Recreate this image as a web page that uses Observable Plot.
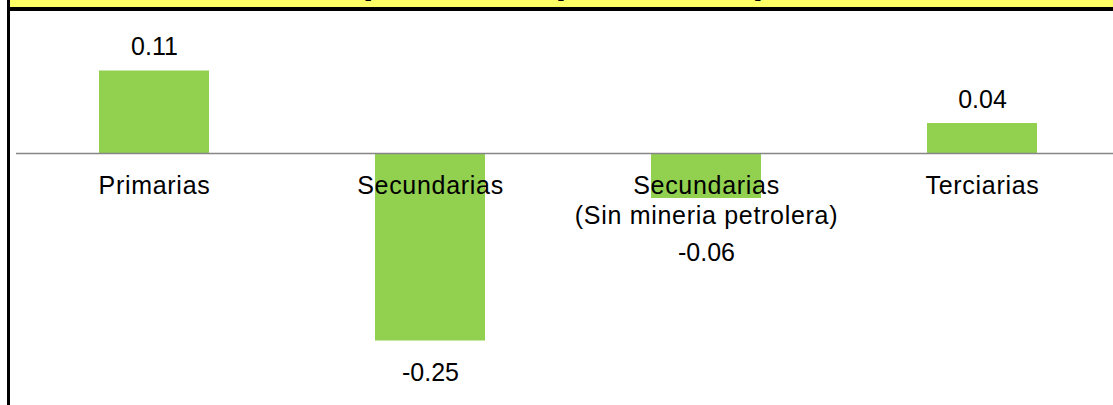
<!DOCTYPE html>
<html>
<head>
<meta charset="utf-8">
<script src="https://cdn.jsdelivr.net/npm/d3@7"></script>
<script src="https://cdn.jsdelivr.net/npm/@observablehq/plot@0.6"></script>
<style>
  html, body { margin: 0; padding: 0; background: #fff; }
  #wrap { position: relative; width: 1113px; height: 405px; overflow: hidden; background: #fff; }
  #chart { position: absolute; left: 0; top: 0; }
  #frame { position: absolute; left: 7px; top: 0; width: 1106px; height: 405px; border-left: 3px solid #000; box-sizing: border-box; pointer-events: none; }
  #header { position: absolute; left: 10px; top: 0; width: 1103px; height: 7px; background: #FFFF66; border-bottom: 4px solid #000; overflow: hidden; }
  #title { position: absolute; left: 553px; top: -40px; transform: translateX(-50%); font: bold 39px "Liberation Sans", Arial, sans-serif; line-height: 39px; white-space: nowrap; color: #000; }
</style>
</head>
<body>
<div id="wrap">
  <div id="chart"></div>
  <div id="frame"></div>
  <div id="header"><div id="title">(Variación porcentual)</div></div>
</div>
<script>
// ---- data ----
const categories = ["Primarias", "Secundarias", "Secundarias\n(Sin mineria petrolera)", "Terciarias"];
const values = [0.11, -0.25, -0.06, 0.04];
const valueLabels = ["0.11", "-0.25", "-0.06", "0.04"];

const data = categories.map((c, i) => ({category: c, value: values[i], label: valueLabels[i]}));

// ---- layout ----
const W = 1113, H = 405;
const yDomain = [-0.336, 0.204];
const pxPerUnit = H / (yDomain[1] - yDomain[0]);
const fontSize = 25;
const catLineHeight = 1.2;
const catDy = 19;
// pixel extent (below zero line) of each category label block
const catBottom = d => catDy + 0.852 * fontSize + (d.category.split("\n").length - 1) * catLineHeight * fontSize + 6;
// negative labels whose bar is too short would collide with the category label
const collides = d => d.value < 0 && Math.abs(d.value) * pxPerUnit + 23 < catBottom(d);

const normalNeg = data.filter(d => d.value < 0 && !collides(d));
const pushedNeg = data.filter(d => collides(d));
const pos = data.filter(d => d.value >= 0);

const plot = Plot.plot({
  width: W,
  height: H,
  marginTop: 0,
  marginBottom: 0,
  marginLeft: 16,
  marginRight: 0,
  style: {fontFamily: "'Liberation Sans', Arial, sans-serif", fontSize: fontSize + "px", color: "#000", background: "transparent", maxWidth: "none", overflow: "visible"},
  x: {domain: categories, range: [16, 1120], paddingInner: 0.6, paddingOuter: 0.3, axis: null},
  y: {domain: yDomain, axis: null},
  marks: [
    Plot.barY(data, {x: "category", y: "value", fill: "#92D050"}),
    Plot.ruleY([0], {stroke: "#868686", strokeWidth: 1.5}),
    Plot.text(data, {x: "category", y: d => 0, text: "category", lineAnchor: "top", lineHeight: catLineHeight, dy: catDy, fill: "#000", fontSize: fontSize}),
    Plot.text(pos, {x: "category", y: "value", text: "label", lineAnchor: "bottom", dy: -16, fill: "#000", fontSize: fontSize}),
    Plot.text(normalNeg, {x: "category", y: "value", text: "label", lineAnchor: "bottom", dy: 40, fill: "#000", fontSize: fontSize}),
    Plot.text(pushedNeg, {x: "category", y: d => 0, text: "label", lineAnchor: "bottom", dy: 107, fill: "#000", fontSize: fontSize})
  ]
});
// slight tracking on category labels (first text mark)
d3.select(plot).selectAll('g[aria-label="text"]').filter((d, i) => i === 0).style("letter-spacing", "0.7px");
document.getElementById("chart").appendChild(plot);
</script>
</body>
</html>
